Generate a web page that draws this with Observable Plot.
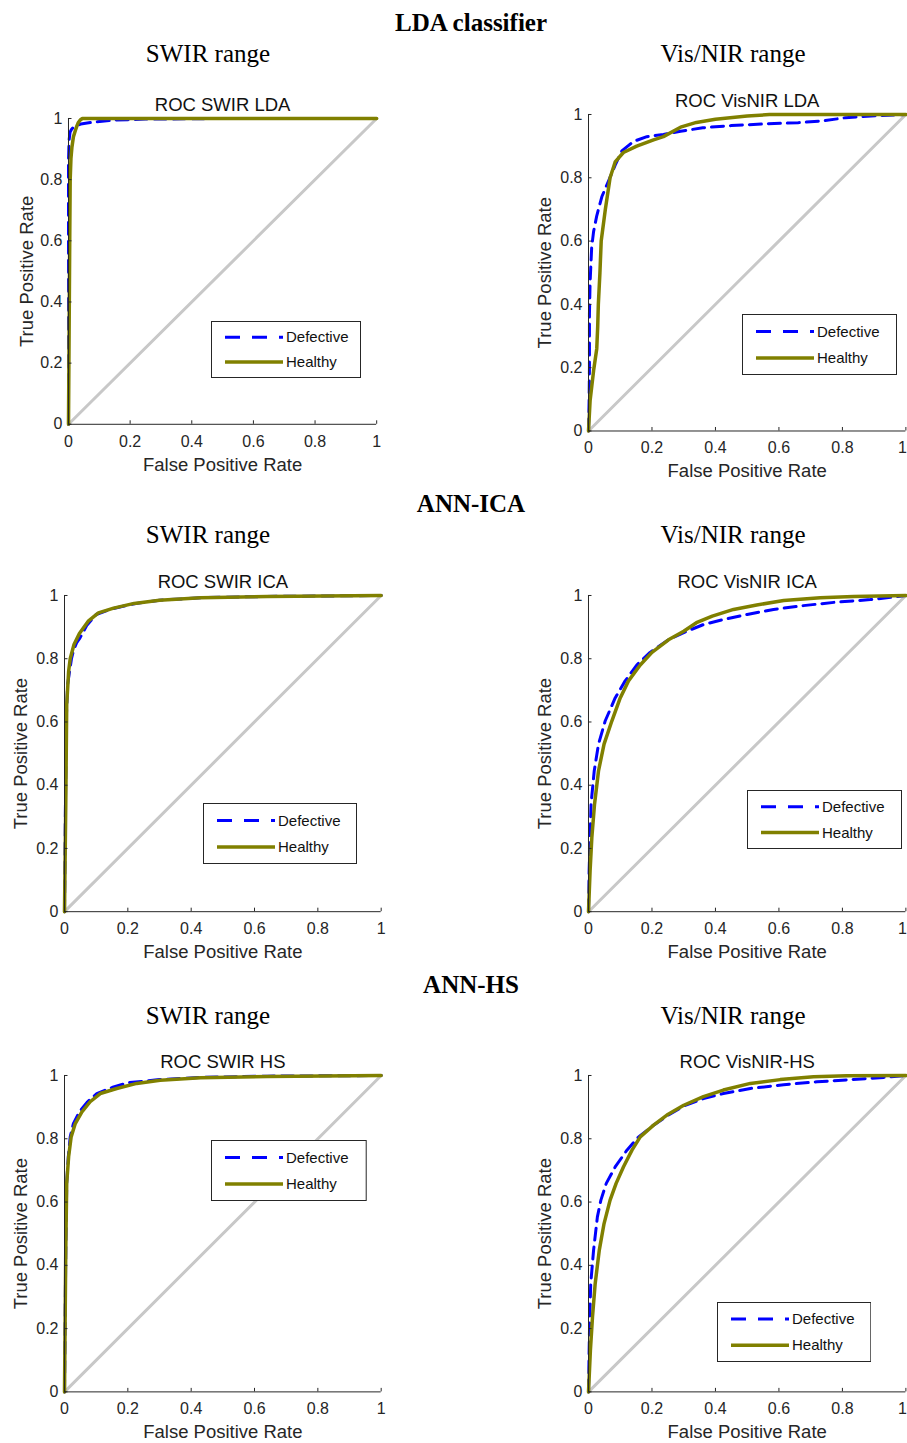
<!DOCTYPE html>
<html><head><meta charset="utf-8">
<script src="https://cdn.jsdelivr.net/npm/d3@7"></script>
<script src="https://cdn.jsdelivr.net/npm/@observablehq/plot@0.6"></script>
<style>
html,body{margin:0;padding:0;background:#fff;overflow:hidden}
#page{position:relative;width:907px;height:1443px;overflow:hidden}
#page > svg, #page > div{position:absolute}
</style></head><body><div id="page"></div><script>
// ---------- data ----------
const sectionTitles = ["LDA classifier", "ANN-ICA", "ANN-HS"];
const rangeTitles = ["SWIR range", "Vis/NIR range"];
const panelTitles = ["ROC SWIR LDA", "ROC VisNIR LDA", "ROC SWIR ICA", "ROC VisNIR ICA", "ROC SWIR HS", "ROC VisNIR-HS"];
const seriesNames = ["Defective", "Healthy"];
const xTicks = [0, 0.2, 0.4, 0.6, 0.8, 1];
const yTicks = [0, 0.2, 0.4, 0.6, 0.8, 1];
const xLabel = "False Positive Rate";
const yLabel = "True Positive Rate";
const chanceLine = [[0, 0], [1, 1]];

// [FPR, TPR] pairs
const ldaSwirDefective = [[0,0],[0,0.86],[0.002,0.93],[0.005,0.955],[0.01,0.965],[0.02,0.975],[0.04,0.982],[0.08,0.988],[0.15,0.995],[0.25,0.998],[0.5,1],[1,1]];
const ldaSwirHealthy = [[0,0],[0.002,0.3],[0.004,0.6],[0.0055,0.8],[0.008,0.87],[0.011,0.905],[0.016,0.94],[0.022,0.96],[0.027,0.975],[0.032,0.987],[0.038,0.995],[0.045,1],[1,1]];
const ldaVisDefective = [[0,0],[0.002,0.1],[0.003,0.2],[0.003,0.37],[0.005,0.47],[0.01,0.58],[0.016,0.63],[0.026,0.68],[0.042,0.74],[0.063,0.79],[0.084,0.84],[0.105,0.885],[0.142,0.915],[0.184,0.93],[0.236,0.937],[0.29,0.947],[0.36,0.958],[0.45,0.965],[0.55,0.97],[0.66,0.974],[0.74,0.98],[0.81,0.99],[0.92,0.997],[1,1]];
const ldaVisHealthy = [[0,0],[0.005,0.095],[0.016,0.19],[0.026,0.26],[0.029,0.33],[0.031,0.4],[0.036,0.5],[0.04,0.6],[0.053,0.7],[0.068,0.8],[0.084,0.85],[0.11,0.88],[0.152,0.9],[0.205,0.92],[0.236,0.93],[0.29,0.96],[0.34,0.975],[0.4,0.985],[0.5,0.995],[0.57,1],[1,1]];
const icaSwirDefective = [[0,0],[0.003,0.34],[0.006,0.62],[0.01,0.72],[0.016,0.76],[0.022,0.8],[0.028,0.824],[0.038,0.85],[0.049,0.866],[0.07,0.905],[0.1,0.94],[0.15,0.958],[0.22,0.974],[0.3,0.985],[0.43,0.993],[0.64,0.997],[1,1]];
const icaSwirHealthy = [[0,0],[0.004,0.34],[0.007,0.655],[0.013,0.76],[0.018,0.8],[0.03,0.845],[0.047,0.88],[0.076,0.92],[0.107,0.945],[0.155,0.96],[0.22,0.975],[0.3,0.985],[0.43,0.993],[0.64,0.997],[1,1]];
const icaVisDefective = [[0,0],[0.002,0.129],[0.005,0.234],[0.008,0.34],[0.018,0.445],[0.0315,0.53],[0.0525,0.603],[0.084,0.676],[0.1155,0.73],[0.152,0.78],[0.194,0.82],[0.252,0.86],[0.31,0.887],[0.362,0.908],[0.425,0.924],[0.5,0.94],[0.583,0.956],[0.677,0.968],[0.78,0.979],[0.888,0.987],[1,1]];
const icaVisHealthy = [[0,0],[0.005,0.129],[0.0105,0.234],[0.019,0.34],[0.0315,0.445],[0.049,0.53],[0.0735,0.603],[0.1,0.676],[0.126,0.73],[0.163,0.78],[0.2,0.82],[0.252,0.86],[0.3,0.887],[0.34,0.914],[0.39,0.935],[0.457,0.956],[0.53,0.97],[0.615,0.984],[0.73,0.993],[0.835,0.997],[1,1]];
const hsSwirDefective = [[0,0],[0.004,0.448],[0.007,0.66],[0.012,0.743],[0.018,0.806],[0.028,0.848],[0.047,0.885],[0.073,0.917],[0.102,0.943],[0.15,0.962],[0.2,0.977],[0.3,0.987],[0.43,0.994],[0.64,0.998],[1,1]];
const hsSwirHealthy = [[0,0],[0.004,0.448],[0.007,0.66],[0.013,0.743],[0.021,0.806],[0.034,0.848],[0.055,0.885],[0.081,0.917],[0.113,0.943],[0.165,0.959],[0.228,0.975],[0.302,0.985],[0.43,0.993],[0.64,0.997],[1,1]];
const hsVisDefective = [[0,0],[0.002,0.132],[0.004,0.237],[0.007,0.342],[0.016,0.448],[0.028,0.553],[0.039,0.606],[0.056,0.659],[0.084,0.711],[0.121,0.764],[0.158,0.806],[0.205,0.843],[0.252,0.875],[0.305,0.906],[0.362,0.927],[0.425,0.943],[0.51,0.959],[0.615,0.971],[0.72,0.98],[0.825,0.987],[0.93,0.994],[1,1]];
const hsVisHealthy = [[0,0],[0.006,0.132],[0.0126,0.237],[0.021,0.342],[0.034,0.448],[0.049,0.532],[0.068,0.606],[0.087,0.659],[0.11,0.711],[0.137,0.764],[0.163,0.806],[0.205,0.843],[0.247,0.875],[0.3,0.906],[0.362,0.933],[0.425,0.954],[0.51,0.975],[0.604,0.987],[0.709,0.996],[0.814,0.999],[1,1]];

const panelSeries = [
  [ldaSwirDefective, ldaSwirHealthy],
  [ldaVisDefective, ldaVisHealthy],
  [icaSwirDefective, icaSwirHealthy],
  [icaVisDefective, icaVisHealthy],
  [hsSwirDefective, hsSwirHealthy],
  [hsVisDefective, hsVisHealthy]
];

// ---------- layout (page pixels) ----------
const frames = [ // left, right, top, bottom of each axes box
  [68.3, 376.5, 117.7, 423.5],
  [588.3, 905.7, 113.5, 430],
  [64.3, 381, 594.5, 910.7],
  [588.3, 905.7, 594.5, 910.7],
  [64.3, 381, 1075.3, 1391.7],
  [588.3, 905.7, 1075.3, 1391.7]
];
const legendBoxes = [ // left, top, width, height
  [211, 321, 150, 57],
  [742, 313.5, 155, 61],
  [203.3, 803.3, 154, 61],
  [747.3, 790, 155, 59],
  [211, 1140, 155.7, 61],
  [716.7, 1302.3, 154.3, 60]
];
const sectionBaselines = [31, 512, 993];
const rangeBaselines = [62, 543, 1024];
const rangeCenters = [208, 733];

const seriesColors = ["#0000ff", "#808000"];
const axisColor = "#262626";
const sans = "'Liberation Sans', Arial, Helvetica, sans-serif";
const serif = "'Liberation Serif', 'Times New Roman', serif";

const page = document.getElementById("page");
const NS = "http://www.w3.org/2000/svg";

// headers
const hdr = document.createElementNS(NS, "svg");
hdr.setAttribute("width", 907); hdr.setAttribute("height", 1443);
hdr.style.left = "0px"; hdr.style.top = "0px";
function addText(svg, str, x, y, opts) {
  const t = document.createElementNS(NS, "text");
  t.setAttribute("x", x); t.setAttribute("y", y);
  for (const k in opts) t.setAttribute(k, opts[k]);
  t.textContent = str;
  svg.appendChild(t);
  return t;
}
sectionTitles.forEach((s, i) => {
  addText(hdr, s, 471, sectionBaselines[i], {"text-anchor": "middle", "font-family": serif, "font-size": 25, "font-weight": "bold", fill: "#000"});
  rangeTitles.forEach((r, j) => {
    addText(hdr, r, rangeCenters[j], rangeBaselines[i], {"text-anchor": "middle", "font-family": serif, "font-size": 25, fill: "#000"});
  });
});
page.appendChild(hdr);

const ML = 60, MR = 12, MT = 30, MB = 60;
const fmt = d => String(d);

panelTitles.forEach((title, p) => {
  const [fl, fr, ft, fb] = frames[p];
  const iw = fr - fl, ih = fb - ft;
  const [def, hea] = panelSeries[p];
  const atEdge = p % 2 === 1; // right column touches the page edge
  const lastTick = xTicks[xTicks.length - 1];
  const chart = Plot.plot({
    width: iw + ML + MR,
    height: ih + MT + MB,
    marginLeft: ML, marginRight: MR, marginTop: MT, marginBottom: MB,
    x: {domain: [0, 1]},
    y: {domain: [0, 1]},
    style: {fontFamily: sans, fontSize: "16px", color: axisColor, background: "transparent", overflow: "visible"},
    marks: [
      Plot.line(chanceLine, {x: d => d[0], y: d => d[1], stroke: "#c8c8c8", strokeWidth: 3}),
      Plot.line(def, {x: d => d[0], y: d => d[1], stroke: seriesColors[0], strokeWidth: 3, strokeDasharray: "12,7"}),
      Plot.line(hea, {x: d => d[0], y: d => d[1], stroke: seriesColors[1], strokeWidth: 3.5}),
      Plot.ruleX([0], {stroke: axisColor, strokeWidth: 1}),
      Plot.ruleY([0], {stroke: axisColor, strokeWidth: 1}),
      Plot.tickX(xTicks, {x: d => d, insetTop: ih - 3.5, stroke: axisColor, strokeWidth: 1}),
      Plot.tickY(yTicks, {y: d => d, insetRight: iw - 3.5, stroke: axisColor, strokeWidth: 1}),
      Plot.axisX({ticks: atEdge ? xTicks.slice(0, -1) : xTicks, tickFormat: fmt, tickSize: 0, tickPadding: 11, fontSize: 16, label: null, fill: axisColor}),
      atEdge ? Plot.text([lastTick], {x: d => d, text: fmt, frameAnchor: "bottom", dy: 11, dx: 1, lineAnchor: "top", textAnchor: "end", fontSize: 16, fill: axisColor}) : null,
      Plot.axisY({ticks: yTicks, tickFormat: fmt, tickSize: 0, tickPadding: 6, fontSize: 16, label: null, fill: axisColor}),
      Plot.text([title], {text: d => d, frameAnchor: "top", dy: -13, lineAnchor: "middle", fontSize: 18.5, fill: "#111"}),
      Plot.text([xLabel], {text: d => d, frameAnchor: "bottom", dy: 40.5, lineAnchor: "middle", fontSize: 18.5, fill: axisColor}),
      Plot.text([yLabel], {text: d => d, frameAnchor: "left", dx: p === 0 ? -41.5 : -43, rotate: -90, lineAnchor: "middle", textAnchor: "middle", fontSize: 18.5, fill: axisColor})
    ]
  });
  chart.style.position = "absolute";
  chart.style.left = (fl - ML) + "px";
  chart.style.top = (ft - MT) + "px";
  page.appendChild(chart);

  // legend box
  const [lx, ly, lw, lh] = legendBoxes[p];
  const leg = document.createElementNS(NS, "svg");
  leg.setAttribute("width", lw); leg.setAttribute("height", lh);
  leg.style.left = lx + "px"; leg.style.top = ly + "px";
  const rect = document.createElementNS(NS, "rect");
  rect.setAttribute("x", 0.5); rect.setAttribute("y", 0.5);
  rect.setAttribute("width", lw - 1); rect.setAttribute("height", lh - 1);
  rect.setAttribute("fill", "#fff"); rect.setAttribute("stroke", axisColor); rect.setAttribute("stroke-width", 1);
  leg.appendChild(rect);
  seriesNames.forEach((name, k) => {
    const yy = lh * (k === 0 ? 0.285 : 0.72);
    const ln = document.createElementNS(NS, "line");
    ln.setAttribute("x1", 14); ln.setAttribute("x2", 72);
    ln.setAttribute("y1", yy); ln.setAttribute("y2", yy);
    ln.setAttribute("stroke", seriesColors[k]);
    ln.setAttribute("stroke-width", k === 0 ? 3 : 3.5);
    if (k === 0) ln.setAttribute("stroke-dasharray", "15,12");
    leg.appendChild(ln);
    addText(leg, name, 75, yy, {"font-family": sans, "font-size": 15, fill: "#111", dy: "0.35em"});
  });
  page.appendChild(leg);
});
</script></body></html>
